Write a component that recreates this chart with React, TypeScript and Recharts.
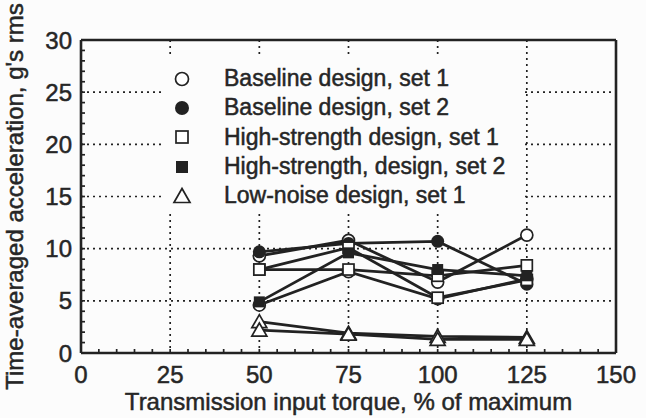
import React from "react";
import {
  CartesianGrid,
  Label,
  Legend,
  Line,
  LineChart,
  ReferenceLine,
  XAxis,
  YAxis,
} from "recharts";

const INK = "#222222";
const TEXT = "#262626";

const TORQUE = [50, 75, 100, 125];
const X_TICKS = [0, 25, 50, 75, 100, 125, 150];
const Y_TICKS = [0, 5, 10, 15, 20, 25, 30];
// small inward ticks: every 5 % on x, every 1 g on y
const X_MINOR = Array.from({ length: 31 }, (_, i) => i * 5);
const Y_MINOR = Array.from({ length: 31 }, (_, i) => i);

// two runs per set where the picture shows two lines
const BASELINE_1_A = [9.3, 10.8, 6.8, 11.3];
const BASELINE_1_B = [4.6, 7.8, 5.2, 7.1];
const BASELINE_2_A = [9.7, 10.5, 10.7, 6.6];
const HIGH_1_A = [8.0, 10.1, 5.3, 7.0];
const HIGH_1_B = [8.0, 8.0, 7.4, 8.4];
const HIGH_2_A = [4.9, 9.6, 8.0, 7.4];
const LOW_1_A = [3.0, 1.9, 1.6, 1.5];
const LOW_1_B = [2.2, 1.8, 1.3, 1.3];

type Shape = "circle" | "disc" | "square" | "block" | "triangle";

const LEGEND_ITEMS: { label: string; shape: Shape }[] = [
  { label: "Baseline design, set 1", shape: "circle" },
  { label: "Baseline design, set 2", shape: "disc" },
  { label: "High-strength design, set 1", shape: "square" },
  { label: "High-strength, design, set 2", shape: "block" },
  { label: "Low-noise design, set 1", shape: "triangle" },
];

const RUNS: { id: string; shape: Shape; values: number[] }[] = [
  { id: "b1a", shape: "circle", values: BASELINE_1_A },
  { id: "b1b", shape: "circle", values: BASELINE_1_B },
  { id: "b2a", shape: "disc", values: BASELINE_2_A },
  { id: "h1a", shape: "square", values: HIGH_1_A },
  { id: "h1b", shape: "square", values: HIGH_1_B },
  { id: "h2a", shape: "block", values: HIGH_2_A },
  { id: "l1a", shape: "triangle", values: LOW_1_A },
  { id: "l1b", shape: "triangle", values: LOW_1_B },
];

// the scan makes the type look heavier than a plain regular weight
const TEXT_STYLE = { fontSize: 24, fill: TEXT, stroke: TEXT, strokeWidth: 0.5 };

function Marker({ shape, cx, cy, size = 12 }: { shape: Shape; cx: number; cy: number; size?: number }) {
  const h = size / 2;
  switch (shape) {
    case "circle":
      return <circle cx={cx} cy={cy} r={h} fill="#fff" stroke={INK} strokeWidth={1.7} />;
    case "disc":
      return <circle cx={cx} cy={cy} r={h + 0.5} fill={INK} />;
    case "square":
      return (
        <rect x={cx - h + 0.5} y={cy - h + 0.5} width={size - 1} height={size - 1} fill="#fff" stroke={INK} strokeWidth={1.7} />
      );
    case "block":
      return <rect x={cx - h + 0.5} y={cy - h + 0.5} width={size - 1} height={size - 1} fill={INK} />;
    default:
      return (
        <polygon
          points={`${cx},${cy - h - 1} ${cx + h + 1.5},${cy + h} ${cx - h - 1.5},${cy + h}`}
          fill="#fff"
          stroke={INK}
          strokeWidth={1.7}
        />
      );
  }
}

function LegendBox() {
  return (
    <div style={{ background: "#fcfcfc", width: 362, height: 155, paddingTop: 7, boxSizing: "border-box" }}>
      {LEGEND_ITEMS.map((item) => (
        <div key={item.label} style={{ display: "flex", alignItems: "center", height: 29.3 }}>
          <svg width={40} height={22}>
            <Marker shape={item.shape} cx={19} cy={11} size={13} />
          </svg>
          <span
            style={{
              marginLeft: 21,
              fontSize: 23,
              color: TEXT,
              whiteSpace: "nowrap",
              WebkitTextStroke: `0.5px ${TEXT}`,
            }}
          >
            {item.label}
          </span>
        </div>
      ))}
    </div>
  );
}

const xLabel = (v: number) => (X_TICKS.includes(v) ? String(v) : "");
const yLabel = (v: number) => (Y_TICKS.includes(v) ? String(v) : "");

export default function App() {
  return (
    <div
      style={{
        position: "absolute",
        left: 0,
        top: 0,
        width: 646,
        height: 418,
        background: "#fcfcfc",
        fontFamily: "'Liberation Sans', Arial, sans-serif",
      }}
    >
      <LineChart width={646} height={418} margin={{ top: 40, right: 30, bottom: 0, left: 0 }}>
        <CartesianGrid
          strokeDasharray="2 4"
          stroke={INK}
          strokeWidth={1.7}
          verticalValues={X_TICKS}
          horizontalValues={Y_TICKS}
        />
        <XAxis
          type="number"
          dataKey="x"
          domain={[0, 150]}
          ticks={X_MINOR}
          interval={0}
          height={65}
          tickSize={-4}
          tickMargin={17}
          tickFormatter={xLabel}
          tickLine={{ stroke: INK, strokeWidth: 1.7 }}
          axisLine={{ stroke: INK, strokeWidth: 2.6 }}
          tick={TEXT_STYLE}
        >
          <Label
            value="Transmission input torque, % of maximum"
            position="insideBottom"
            offset={8}
            {...TEXT_STYLE}
          />
        </XAxis>
        <YAxis
          type="number"
          domain={[0, 30]}
          ticks={Y_MINOR}
          interval={0}
          width={81}
          tickSize={-4}
          tickMargin={13}
          tickFormatter={yLabel}
          tickLine={{ stroke: INK, strokeWidth: 1.7 }}
          axisLine={{ stroke: INK, strokeWidth: 2.6 }}
          tick={TEXT_STYLE}
        >
          <Label
            value="Time-averaged acceleration, g's rms"
            position="insideLeft"
            angle={-90}
            offset={14}
            {...TEXT_STYLE}
            style={{ textAnchor: "middle" }}
          />
        </YAxis>
        <ReferenceLine x={150} stroke={INK} strokeWidth={2.6} />
        <ReferenceLine y={30} stroke={INK} strokeWidth={2.6} />
        <Legend
          layout="vertical"
          align="center"
          verticalAlign="middle"
          content={() => <LegendBox />}
          wrapperStyle={{ left: 163, top: 57, width: 362, height: 155 }}
        />
        {RUNS.map((run) => (
          <Line
            key={run.id}
            data={TORQUE.map((x, i) => ({ x, y: run.values[i] }))}
            dataKey="y"
            stroke={INK}
            strokeWidth={2.8}
            legendType="none"
            isAnimationActive={false}
            dot={(props: any) => (
              <Marker key={`${run.id}-${props.index}`} shape={run.shape} cx={props.cx} cy={props.cy} />
            )}
          />
        ))}
      </LineChart>
    </div>
  );
}
